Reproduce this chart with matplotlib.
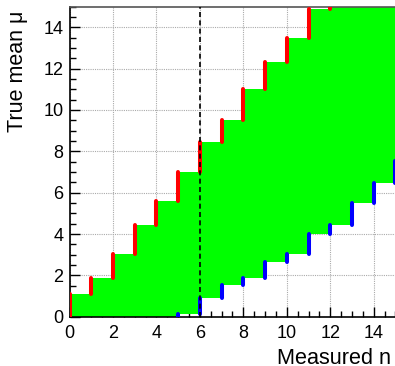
import numpy as np
import matplotlib
matplotlib.use("Agg")
import matplotlib.pyplot as plt
from matplotlib.ticker import MultipleLocator

plt.rcParams['font.family'] = ['Liberation Sans', 'DejaVu Sans']

# Feldman-Cousins 90% CL belt, background b = 3.0
n_obs = [0, 1, 2, 3, 4, 5, 6, 7, 8, 9, 10, 11, 12, 13, 14, 15, 16]
mu_lo = [0.00, 0.00, 0.00, 0.00, 0.00, 0.00, 0.15, 0.89, 1.51, 1.88, 2.63,
         3.04, 4.01, 4.42, 5.50, 6.47, 7.51]
mu_hi = [1.08, 1.88, 3.04, 4.42, 5.60, 6.99, 8.47, 9.53, 11.0, 12.3, 13.5,
         14.9, 16.0, 17.4, 18.5, 19.9, 21.0]
measured = 6
xlabel = "Measured n"
ylabel = "True mean μ"

W, H = 395, 366
fig = plt.figure(figsize=(W / 100, H / 100), dpi=100)
x0, y0 = 69.5, 316.7
ux, uy = 21.73, 20.67
ax = fig.add_axes([x0 / W, (H - y0) / H, 15 * ux / W, 15 * uy / H])
ax.set_xlim(0, 15)
ax.set_ylim(0, 15)

n = np.array(n_obs, dtype=float)
lo = np.array(mu_lo)
hi = np.array(mu_hi)

# green band: for x in [n, n+1): from mu_lo[n+1] to mu_hi[n]
edges = n[:-1]
lower = lo[1:]
upper = hi[:-1]
xe = np.append(edges, edges[-1] + 1)
ax.fill_between(xe, np.append(lower, lower[-1]), np.append(upper, upper[-1]),
                step='post', color='#00ff00', linewidth=0, zorder=2)

# red segments (upper edges)
for i in range(len(n) - 1):
    start = 0.0 if i == 0 else hi[i - 1]
    ax.plot([n[i], n[i]], [start, hi[i]], color='#ff0000', lw=2.9,
            solid_capstyle='round', zorder=6)
# blue segments (lower edges)
for i in range(len(n) - 1):
    if lo[i + 1] > lo[i]:
        ax.plot([n[i], n[i]], [lo[i], lo[i + 1]], color='#0000ff', lw=2.9,
                solid_capstyle='round', zorder=6)

ax.axvline(measured, color='black', lw=1.2, ls=(0, (3, 2)), zorder=7)

ax.xaxis.set_major_locator(MultipleLocator(2))
ax.xaxis.set_minor_locator(MultipleLocator(0.5))
ax.yaxis.set_major_locator(MultipleLocator(2))
ax.yaxis.set_minor_locator(MultipleLocator(0.5))
ax.tick_params(which='major', direction='in', length=7.2, width=1,
               labelsize=13, top=False, right=False)
ax.tick_params(which='minor', direction='in', length=4, width=1,
               top=False, right=False)
ax.tick_params(axis='y', pad=4.3)
ax.tick_params(axis='x', pad=6)
ax.grid(True, which='major', color='#aaaaaa', ls=(0, (1, 1)), lw=0.8, zorder=1)
ax.set_axisbelow(True)
ax.spines['right'].set_visible(False)
for s in ['left', 'bottom', 'top']:
    ax.spines[s].set_linewidth(1.2)
    ax.spines[s].set_zorder(5)
ax.spines['top'].set_color('#555555')

fig.text(277 / W, 1 - 364 / H, xlabel, ha='left', va='baseline', fontsize=15.6)
fig.text(18 / W, 1 - 11 / H, ylabel, ha='center', va='top', rotation=90,
         fontsize=15.5)

fig.savefig('out.png', dpi=100)
